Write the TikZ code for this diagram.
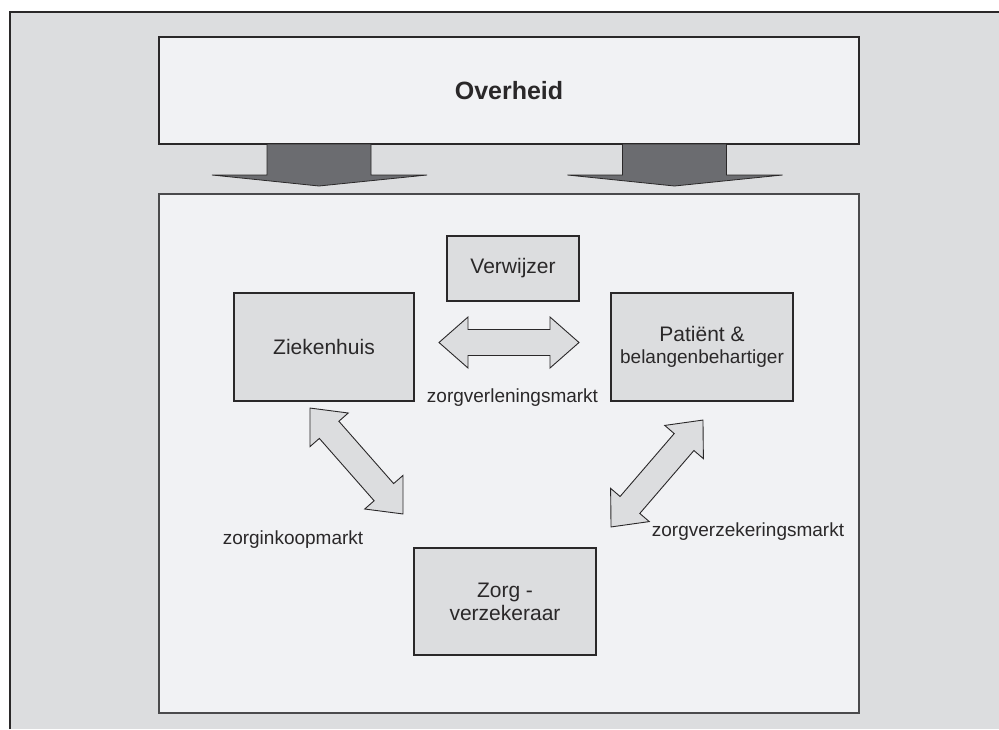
\documentclass[tikz,border=0pt]{standalone}
\usepackage{fontspec}
\setmainfont{Liberation Sans}
\definecolor{panel}{HTML}{DCDDDF}
\definecolor{pale}{HTML}{F1F2F4}
\definecolor{boxfill}{HTML}{DCDDDF}
\definecolor{arrowdark}{HTML}{6B6C70}
\definecolor{ink}{HTML}{2A2829}
\definecolor{rim}{HTML}{4A4A4C}

\tikzset{
  govbox/.style={draw=ink, fill=pale, line width=1.2pt, inner sep=0pt},
  arena/.style={draw=rim, fill=pale, line width=1.8pt, inner sep=0pt},
  actor/.style={draw=ink, fill=boxfill, line width=1.1pt, inner sep=0pt,
    align=center, font=\fontsize{21}{23}\selectfont, text=ink},
  marktlabel/.style={font=\fontsize{19}{22}\selectfont, text=ink, inner sep=0pt},
  flowshape/.style={draw=ink, fill=boxfill, line width=0.9pt, line join=miter},
  pushshape/.style={draw=ink, fill=arrowdark, line width=0.8pt, line join=miter},
  % broad double-headed arrow, centred on the origin along x
  dblarrow/.pic={
    \path[flowshape] (-#1,0) -- (-#1+29,-25.5) -- (-#1+29,-13) -- (#1-29,-13)
      -- (#1-29,-25.5) -- (#1,0) -- (#1-29,25.5) -- (#1-29,13)
      -- (-#1+29,13) -- (-#1+29,25.5) -- cycle;
  },
  % flat downward arrow from the government bar
  downarrow/.pic={
    \path[pushshape] (-52,0) -- (52,0) -- (52,31) -- (108,31) -- (0,42)
      -- (-107,31) -- (-52,31) -- cycle;
  }
}

\begin{document}
\begin{tikzpicture}[x=1pt, y=-1pt]
  \useasboundingbox (0,0) rectangle (999,729);
  \fill[white] (0,0) rectangle (999,729);
  \fill[panel] (10,12) rectangle (999,729);
  \draw[ink, line width=1.4pt] (10,729) -- (10,12) -- (999,12);

  % government bar and the market arena below it
  \node[govbox, minimum width=700pt, minimum height=107pt,
        font=\bfseries\fontsize{25}{30}\selectfont, text=ink] (gov) at (509,90.5) {Overheid};
  \node[arena, minimum width=700pt, minimum height=519pt] (arena) at (509,453.5) {};

  \pic at (319,144) {downarrow};
  \pic at (674.5,144) {downarrow};

  % actors
  \node[actor, minimum width=132pt, minimum height=65pt] (verw) at (513,268.5) {Verwijzer};
  \node[actor, minimum width=180pt, minimum height=108pt] (zh) at (324,347) {Ziekenhuis};
  \node[actor, minimum width=182pt, minimum height=108pt] (pat) at (702,347)
    {Patiënt \&\\[-1pt]\fontsize{19}{22}\selectfont belangenbehartiger};
  \node[actor, minimum width=182pt, minimum height=107pt] (zv) at (505,601.5)
    {Zorg -\\ verzekeraar};

  % market relations
  \pic at (509,342.5) {dblarrow=70};
  \pic[rotate=-48.7] at (356.5,461) {dblarrow=70.5};
  \pic[rotate=49.3] at (657,473.5) {dblarrow=70.5};

  \node[marktlabel] (lbl1) at (512.5,398) {zorgverleningsmarkt};
  \node[marktlabel] (lbl2) at (293,540) {zorginkoopmarkt};
  \node[marktlabel] (lbl3) at (748,532) {zorgverzekeringsmarkt};
\end{tikzpicture}
\end{document}
